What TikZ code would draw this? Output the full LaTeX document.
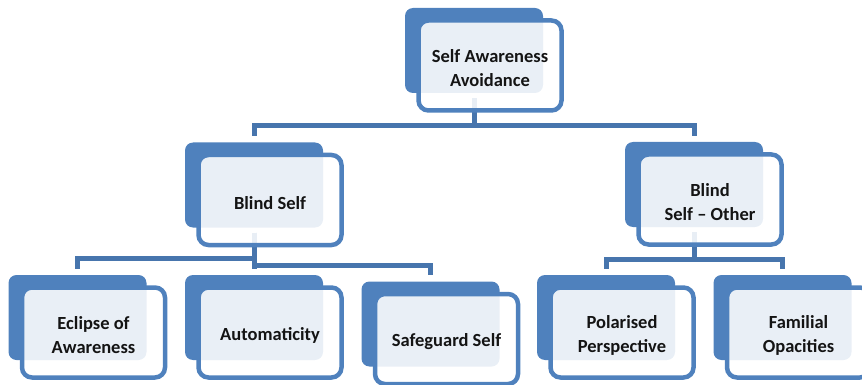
\documentclass[tikz,border=0pt]{standalone}
\usepackage{fontspec}
\setmainfont{Carlito}
\definecolor{boxblue}{HTML}{4F81BD}
\definecolor{linkblue}{HTML}{4775AD}

\begin{document}
\begin{tikzpicture}[x=1pt,y=-1pt,
  back/.style={fill=boxblue,rounded corners=8pt,minimum width=138pt,minimum height=85pt,inner sep=0},
  front/.style={draw=boxblue,line width=4.5pt,fill=white,fill opacity=0.88,rounded corners=10pt,
    minimum width=143pt,minimum height=90pt,inner sep=0},
  caption/.style={align=center,yshift=-3pt,font=\bfseries\fontsize{18.5}{24}\selectfont,text=black!92},
  link/.style={draw=linkblue,line width=5pt}]
  \useasboundingbox (0,0) rectangle (862,385);
  \clip (0,0) rectangle (862,385);
  % back boxes
  \node[back] (awareB) at (474,50.5) {};
  \node[back] (blindB) at (254,185) {};
  \node[back] (otherB) at (694,184.5) {};
  \node[back] (eclipseB) at (77.5,317.5) {};
  \node[back] (autoB) at (254,317.5) {};
  \node[back] (safeB) at (430.5,324) {};
  \node[back] (polarB) at (606,317.5) {};
  \node[back] (familB) at (782.5,317.5) {};
  % connectors
  \draw[link] ([yshift=-5pt]awareB.south) -- ++(0,27) -| ([yshift=6pt]blindB.north);
  \draw[link] ([yshift=-5pt]awareB.south) -- ++(0,27) -| ([yshift=6pt]otherB.north);
  \draw[link] ([yshift=-5pt]blindB.south) -- ++(0,25.5) -| ([yshift=6pt]eclipseB.north);
  \draw[link] ([yshift=-5pt]blindB.south) -- ([yshift=6pt]autoB.north);
  \draw[link] ([yshift=-5pt]blindB.south) -- ++(0,32.5) -| ([yshift=6pt]safeB.north);
  \draw[link] ([yshift=-5pt]otherB.south) -- ++(0,27.5) -| ([yshift=6pt]polarB.north);
  \draw[link] ([yshift=-5pt]otherB.south) -- ++(0,27.5) -| ([yshift=6pt]familB.north);
  % front boxes
  \node[front,label={[caption]center:Self Awareness\\Avoidance}] (aware) at ([shift={(16,15)}]awareB) {};
  \node[front,label={[caption]center:Blind Self}] (blind) at ([shift={(16,15)}]blindB) {};
  \node[front,label={[caption]center:Blind\\Self \textendash{} Other}] (other) at ([shift={(16,15)}]otherB) {};
  \node[front,label={[caption]center:Eclipse of\\Awareness}] (eclipse) at ([shift={(16,15)}]eclipseB) {};
  \node[front,label={[caption]center:Automaticity}] (auto) at ([shift={(16,15)}]autoB) {};
  \node[front,label={[caption]center:Safeguard Self}] (safe) at ([shift={(16,15)}]safeB) {};
  \node[front,label={[caption]center:Polarised\\Perspective}] (polar) at ([shift={(16,15)}]polarB) {};
  \node[front,label={[caption]center:Familial\\Opacities}] (famil) at ([shift={(16,15)}]familB) {};
\end{tikzpicture}
\end{document}
